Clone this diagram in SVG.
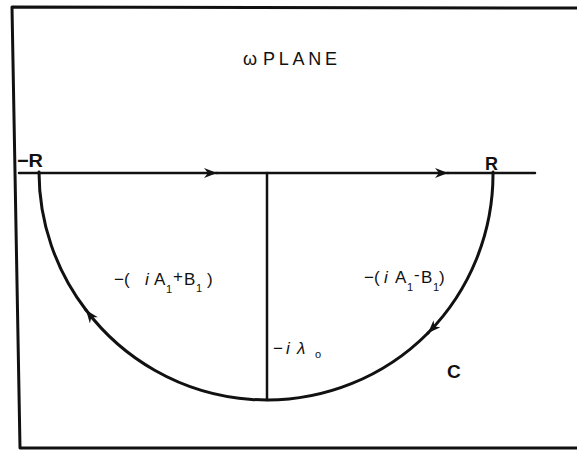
<svg xmlns="http://www.w3.org/2000/svg" width="577" height="451" viewBox="0 0 577 451">
  <style>
    .ln { fill: none; stroke: #111; stroke-linecap: round; stroke-linejoin: round; }
    .t { font-family: "Liberation Sans", Arial, sans-serif; fill: #111; }
    .lab { font-size: 17px; }
    .sub { font-size: 11px; }
  </style>
  <defs>
    <marker id="ah" markerUnits="userSpaceOnUse" markerWidth="16" markerHeight="12" refX="13" refY="5" orient="auto">
      <path d="M0,0 L13,5 L0,10 L4,5 Z" fill="#111"/>
    </marker>
  </defs>
  <rect x="0" y="0" width="577" height="451" fill="#fff"/>

  <g id="frame">
    <path class="ln" d="M577,8 L12,7 L20,448 L577,448" stroke-width="3"/>
  </g>

  <g id="connectors">
    <path class="ln" d="M19,173 L217,173" stroke-width="2.5" marker-end="url(#ah)"/>
    <path class="ln" d="M217,173 L448,173" stroke-width="2.5" marker-end="url(#ah)"/>
    <path class="ln" d="M448,173 L535,173" stroke-width="2.5"/>
    <path class="ln" d="M267,173 L267,400" stroke-width="2.5"/>
    <path class="ln" d="M493,172 A227,227 0 0 1 428,333" stroke-width="3" marker-end="url(#ah)"/>
    <path class="ln" d="M428,333 A227,227 0 0 1 86,310" stroke-width="3" marker-end="url(#ah)"/>
    <path class="ln" d="M86,310 A227,227 0 0 1 39,172" stroke-width="3"/>
  </g>

  <g id="title">
    <text class="t" x="243" y="65" font-size="18">ω</text>
    <text class="t" x="263" y="65" font-size="18" textLength="74" lengthAdjust="spacing">PLANE</text>
  </g>

  <g id="minusR">
    <text class="t" x="17" y="167" font-size="19" font-weight="bold" textLength="26" lengthAdjust="spacingAndGlyphs">−R</text>
  </g>

  <g id="R">
    <text class="t" x="485" y="170" font-size="19" font-weight="bold" textLength="13" lengthAdjust="spacingAndGlyphs">R</text>
  </g>

  <g id="label-left">
    <text class="t lab" y="285">
      <tspan x="114">−(</tspan><tspan x="145" font-style="italic">i</tspan><tspan x="154">A</tspan><tspan x="166" y="293" class="sub">1</tspan><tspan x="173" y="282">+</tspan><tspan x="184" y="285">B</tspan><tspan x="196" y="292" class="sub">1</tspan><tspan x="207" y="285">)</tspan>
    </text>
  </g>

  <g id="label-right">
    <text class="t lab" y="283">
      <tspan x="364">−(</tspan><tspan x="384" font-style="italic">i</tspan><tspan x="395">A</tspan><tspan x="407" y="291" class="sub">1</tspan><tspan x="414" y="280">-</tspan><tspan x="421" y="283">B</tspan><tspan x="433" y="291" class="sub">1</tspan><tspan x="439" y="283">)</tspan>
    </text>
  </g>

  <g id="label-lambda">
    <text class="t lab" y="354">
      <tspan x="273">−</tspan><tspan x="286" font-style="italic">i</tspan><tspan x="297" font-style="italic">λ</tspan><tspan x="315" y="358" class="sub">o</tspan>
    </text>
  </g>

  <g id="label-C">
    <text class="t" x="447" y="378" font-size="19" font-weight="bold">C</text>
  </g>
</svg>
